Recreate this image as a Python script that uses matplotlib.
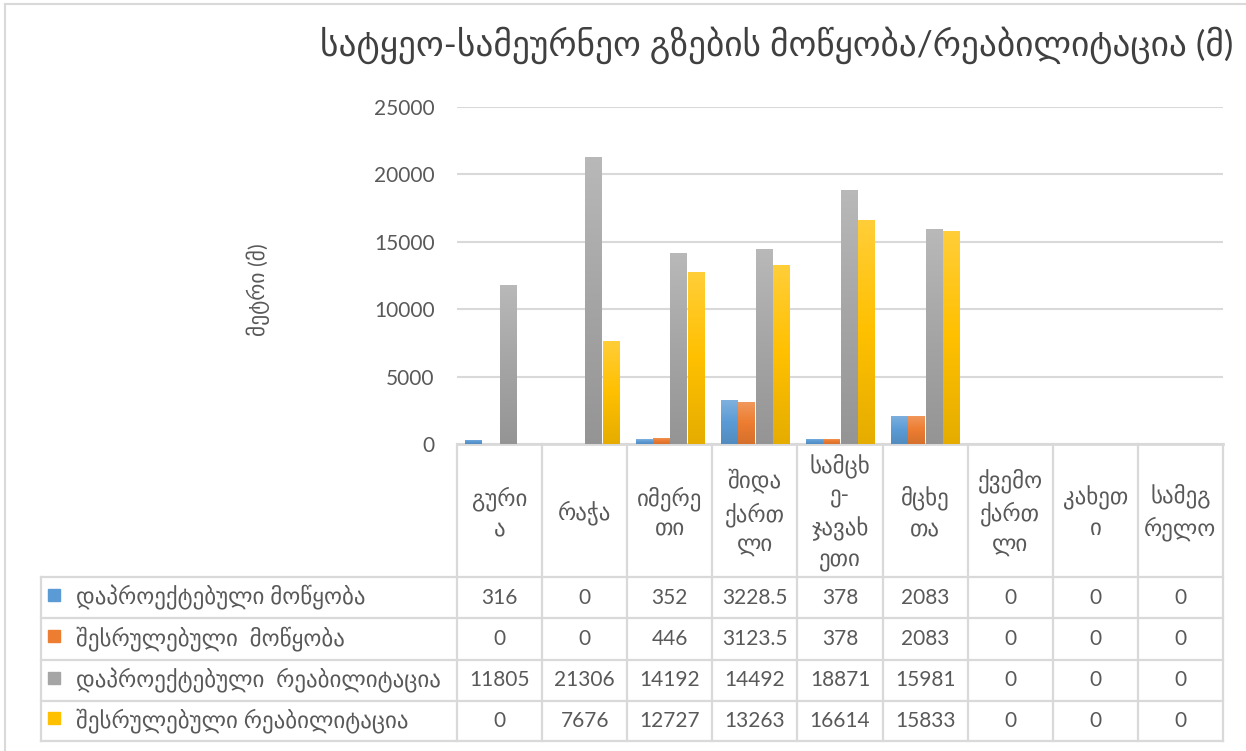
import numpy as np
import matplotlib
matplotlib.use("Agg")
import matplotlib.pyplot as plt
from matplotlib.colors import to_rgb, LinearSegmentedColormap

categories = ["გური\nა", "რაჭა", "იმერე\nთი", "შიდა\nქართ\nლი", "სამცხ\nე-\nჯავახ\nეთი",
              "მცხე\nთა", "ქვემო\nქართ\nლი", "კახეთ\nი", "სამეგ\nრელო"]
series_names = ["დაპროექტებული მოწყობა", "შესრულებული  მოწყობა",
                "დაპროექტებული  რეაბილიტაცია", "შესრულებული რეაბილიტაცია"]
planned_build = [316, 0, 352, 3228.5, 378, 2083, 0, 0, 0]
done_build = [0, 0, 446, 3123.5, 378, 2083, 0, 0, 0]
planned_rehab = [11805, 21306, 14192, 14492, 18871, 15981, 0, 0, 0]
done_rehab = [0, 7676, 12727, 13263, 16614, 15833, 0, 0, 0]
series_values = [planned_build, done_build, planned_rehab, done_rehab]
colors = ["#5B9BD5", "#ED7D31", "#A5A5A5", "#FFC000"]
yticks = [0, 5000, 10000, 15000, 20000, 25000]
title = "სატყეო-სამეურნეო გზების მოწყობა/რეაბილიტაცია (მ)"
ylabel = "მეტრი (მ)"

FONT = ["Lato", "DejaVu Sans"]
plt.rcParams["font.family"] = FONT
TXT = "#595959"
GRID = "#D9D9D9"

W, H = 1246, 751
fig = plt.figure(figsize=(W / 100, H / 100), dpi=100)

def fx(px):
    return px / W

def fy(py):
    return 1 - py / H

ax_l, ax_r, ax_t, ax_b = 457, 1223, 107, 444
ax = fig.add_axes([fx(ax_l), fy(ax_b), fx(ax_r - ax_l), (ax_b - ax_t) / H])

n = len(categories)
x = np.arange(n)
pitch = 0.205
width = 0.19

def shade(c, f):
    r = np.array(to_rgb(c))
    if f > 0:
        return tuple(r + (1 - r) * f)
    return tuple(r * (1 + f))

for i, (vals, col) in enumerate(zip(series_values, colors)):
    bars = ax.bar(x + (i - 1.5) * pitch, vals, width, color=col, zorder=3)
    cmap = LinearSegmentedColormap.from_list("g", [shade(col, -0.1), col, shade(col, 0.22)])
    grad = np.linspace(0, 1, 256).reshape(-1, 1)
    for b in bars:
        h = b.get_height()
        if h <= 0:
            continue
        x0 = b.get_x()
        im = ax.imshow(grad, extent=(x0, x0 + b.get_width(), 0, h), origin="lower",
                       aspect="auto", cmap=cmap, zorder=3.5)
        im.set_clip_path(b)

ax.set_xlim(-0.5, n - 0.5)
ax.set_ylim(0, 25000)
ax.set_yticks(yticks)
ax.set_yticklabels([str(v) for v in yticks], fontsize=15, color=TXT)
ax.tick_params(axis="y", length=0, pad=16)
ax.set_xticks([])
ax.grid(axis="y", color=GRID, linewidth=1.5, zorder=0)
for s in ["top", "right", "left"]:
    ax.spines[s].set_visible(False)
ax.spines["bottom"].set_color(GRID)
ax.spines["bottom"].set_linewidth(2)
ax.set_axisbelow(True)

# overlay for table
ov = fig.add_axes([0, 0, 1, 1], facecolor="none")
ov.set_xlim(0, W)
ov.set_ylim(H, 0)
ov.axis("off")

# category boundaries from the axes scale
bounds_px = []
for k in range(n + 1):
    disp = ax.transData.transform((k - 0.5, 0))
    bounds_px.append(disp[0] * W / fig.bbox.width)
centers_px = [(bounds_px[k] + bounds_px[k + 1]) / 2 for k in range(n)]

hdr_top, hdr_bot = 444, 577
rows = [577, 618, 660, 701, 741]
leg_left = 41
lw = 1.6

for bx in bounds_px:
    ov.plot([bx, bx], [hdr_top, rows[-1]], color=GRID, lw=lw)
ov.plot([leg_left, leg_left], [rows[0], rows[-1]], color=GRID, lw=lw)
for ry in rows:
    ov.plot([leg_left, bounds_px[-1]], [ry, ry], color=GRID, lw=lw)

for k, c in enumerate(categories):
    ov.text(centers_px[k], (hdr_top + hdr_bot) / 2 + 2, c, ha="center", va="center",
            fontsize=16.5, color=TXT, linespacing=1.45)

for r, (name, vals, col) in enumerate(zip(series_names, series_values, colors)):
    cy = (rows[r] + rows[r + 1]) / 2
    ov.add_patch(plt.Rectangle((48, cy - 9), 12, 12, color=col))
    ov.text(76, cy, name, ha="left", va="center", fontsize=16.5, color=TXT)
    for k, v in enumerate(vals):
        s = f"{v:g}" if v != int(v) else str(int(v))
        ov.text(centers_px[k], cy, s, ha="center", va="center", fontsize=15, color=TXT)

# title and y label
ov.text(777, 45, title, ha="center", va="center", fontsize=25.5, color="#404040")
ov.text(258, 290, ylabel, ha="center", va="center", rotation=90, fontsize=15.5, color=TXT)

# chart border
ov.plot([5, 5], [4, H], color=GRID, lw=1.5)
ov.plot([5, W], [4, 4], color=GRID, lw=1.5)

fig.savefig("out.png", dpi=100)
